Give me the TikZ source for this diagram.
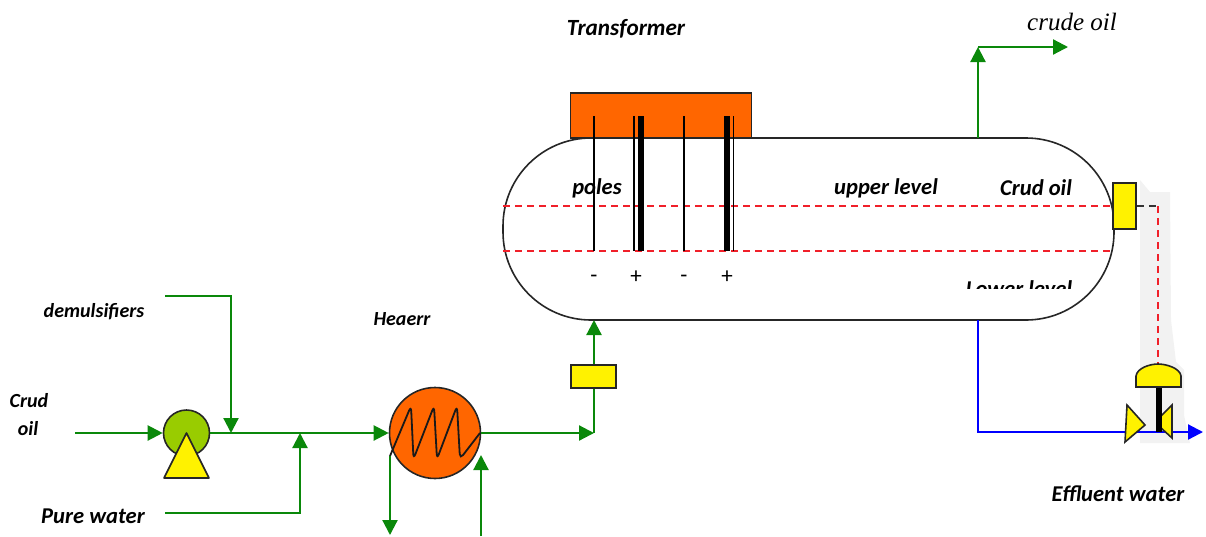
\documentclass[tikz,border=0pt]{standalone}
\usepackage{fontspec}
\setmainfont{Carlito}
\newfontfamily\serifit{Liberation Serif}
\usetikzlibrary{arrows.meta}
\definecolor{pipegreen}{HTML}{0A880A}
\definecolor{hotorange}{HTML}{FF6600}
\definecolor{pumpgreen}{HTML}{99CC00}
\definecolor{halo}{HTML}{F2F2F2}
\definecolor{levelred}{HTML}{F0202A}
\tikzset{
  x=1pt,y=-1pt,
  pipe/.style={draw=pipegreen,line width=2.2pt,-{Triangle[length=15pt,width=15pt]}},
  bluepipe/.style={draw=blue,line width=2.2pt},
  outline/.style={draw=black!85,line width=1.6pt},
  yellowbox/.style={outline,fill=yellow,inner sep=0pt},
  reddash/.style={draw=levelred,line width=1.5pt,dash pattern=on 7pt off 5pt},
  lab/.style={font=\fontsize{22.6}{26}\selectfont\bfseries\itshape,inner sep=0pt,text=black},
  labsmall/.style={font=\fontsize{20}{23}\selectfont\bfseries\itshape,inner sep=0pt,text=black},
  pm/.style={font=\fontsize{23}{25}\selectfont,inner sep=0pt},
  pole/.style={draw=black,line width=1.5pt},
  thickpole/.style={draw=black,line width=6.5pt},
}
\begin{document}
\begin{tikzpicture}
\useasboundingbox (0,0) rectangle (1206,536);
% halo behind the level signal
\fill[halo] (1140,180) -- (1150,192) -- (1170,192) -- (1171,320) -- (1176,362) -- (1184,370) -- (1184,415) -- (1190,443) -- (1140,443) -- cycle;
% vessel and transformer
\node[outline,minimum width=611pt,minimum height=182pt,rounded corners=88pt,inner sep=0pt] (tank) at (808.5,229) {};
\node[outline,fill=hotorange,minimum width=181pt,minimum height=45pt,inner sep=0pt] (trafo) at (661,115.5) {};
% poles
\coordinate (p1t) at (594,116); \coordinate (p1b) at (594,251);
\coordinate (p2t) at (634,116); \coordinate (p2b) at (634,251);
\coordinate (p3t) at (641,116); \coordinate (p3b) at (641,251);
\coordinate (p4t) at (684,116); \coordinate (p4b) at (684,251);
\coordinate (p5t) at (727,116); \coordinate (p5b) at (727,251);
\coordinate (p6t) at (733.5,116); \coordinate (p6b) at (733.5,251);
% level lines
\coordinate (u1) at (503,206); \coordinate (l1) at (503,251); \coordinate (l2) at (1113,251);
\draw[reddash] (u1) -- (1113,206);
\draw[reddash] (l1) -- (l2);
\draw[pole] (p1t) -- (p1b);
\draw[pole] (p2t) -- (p2b);
\draw[thickpole] (p3t) -- (p3b);
\draw[pole] (p4t) -- (p4b);
\draw[thickpole] (p5t) -- (p5b);
\draw[pole] (p6t) -- (p6b);
\node[pm] (m1) at (594,279) {-};
\node[pm] (a1) at (636,277) {+};
\node[pm] (m2) at (684,279) {-};
\node[pm] (a2) at (727,277) {+};
% level controller box and signal
\node[yellowbox,minimum width=23pt,minimum height=46pt] (lc) at (1124.5,206) {};
\coordinate (sigc) at (1158,206);
\draw[black!80,line width=1.3pt,dash pattern=on 7pt off 5pt] (lc.east) -- (sigc);
\coordinate (act) at (1158,364);
\draw[reddash] (sigc) -- (act);
% crude oil outlet
\coordinate (top1) at (978,47);
\coordinate (top2) at (1068,47);
\coordinate (tankout) at (978,138);
\draw[pipe] (tankout) -- (top1);
\draw[pipe] (top1) -- (top2);
% water outlet
\coordinate (wat1) at (978,320);
\coordinate (wat2) at (978,432);
\coordinate (wat3) at (1203,432);
\draw[bluepipe] (wat1) -- (wat2) -- (1190,432);
\draw[bluepipe,-{Triangle[length=15pt,width=15pt]}] (wat2) -- (wat3);
% control valve
\draw[outline,fill=yellow] (1172,405) -- (1172,438) -- (1160,427) -- (1160,417) -- cycle;
\draw[draw=black,line width=6.5pt] (1159,388) -- (1159,432);
\draw[outline,fill=yellow] (1127,405) -- (1145,425) -- (1125,442) -- cycle;
\draw[outline,fill=yellow] (1136,387) -- (1136,376) .. controls (1137,368) and (1150,364) .. (1158,364) .. controls (1166,364) and (1180,368) .. (1181,376) -- (1181,387) -- cycle;
% left-hand feed
\coordinate (cin) at (75,433);
\coordinate (dem1) at (165,296); \coordinate (dem2) at (231,296); \coordinate (dem3) at (231,433);
\coordinate (pw1) at (165,513); \coordinate (pw2) at (300,513); \coordinate (pw3) at (300,433);
\node[outline,circle,fill=pumpgreen,minimum size=46pt,inner sep=0pt] (pump) at (186.5,433) {};
\draw[outline,fill=yellow,line join=round] (186.5,433) -- (209,478) -- (164,478) -- cycle;
\node[outline,circle,fill=hotorange,minimum size=91pt,inner sep=0pt] (heater) at (435,433) {};
\draw[line width=1.8pt,black!90,rounded corners=5pt] (390,456) -- (411,406) -- (413.5,459) -- (434,406) -- (437,459) -- (457,406) -- (460,459) -- (480,433);
\draw[pipe] (cin) -- (pump.west);
\draw[pipe] (pump.east) -- (heater.west);
\draw[pipe] (dem1) -- (dem2) -- (dem3);
\draw[pipe] (pw1) -- (pw2) -- (pw3);
% heater outlet
\coordinate (hc1) at (390,456); \coordinate (hc2) at (390,535);
\coordinate (hr1) at (481,536); \coordinate (hr2) at (481,455);
\draw[pipe] (hc1) -- (hc2);
\draw[pipe] (hr1) -- (hr2);
\coordinate (feedc) at (594,433);
\coordinate (feedt) at (594,320);
\draw[pipe] (heater.east) -- (feedc);
\draw[pipe] (feedc) -- (feedt);
\node[yellowbox,minimum width=45pt,minimum height=23pt] (fc) at (593.5,376.5) {};
% labels
\node[lab,font=\fontsize{23.2}{26}\selectfont\bfseries\itshape] (t1) at (626,28.5) {Transformer};
\node[anchor=center,inner sep=0pt,font=\fontsize{25}{27}\selectfont\serifit\itshape] (t2) at (1072,22) {crude oil};
\node[lab] (t3) at (597,188) {poles};
\node[lab] (t4) at (886,188) {upper level};
\node[lab] (t5) at (1036,188) {Crud oil};
\begin{scope}
\clip (900,270) rectangle (1100,288.5);
\node[lab] (t6) at (1019,289) {Lower level};
\end{scope}
\node[labsmall] (t7) at (94,311.5) {demulsifiers};
\node[labsmall] (t8) at (402,319) {Heaerr};
\node[labsmall] (t9) at (29,401) {Crud};
\node[labsmall] (t10) at (28,429) {oil};
\node[lab] (t11) at (93,516) {Pure water};
\node[lab] (t12) at (1118,494) {Effluent water};
\end{tikzpicture}
\end{document}
